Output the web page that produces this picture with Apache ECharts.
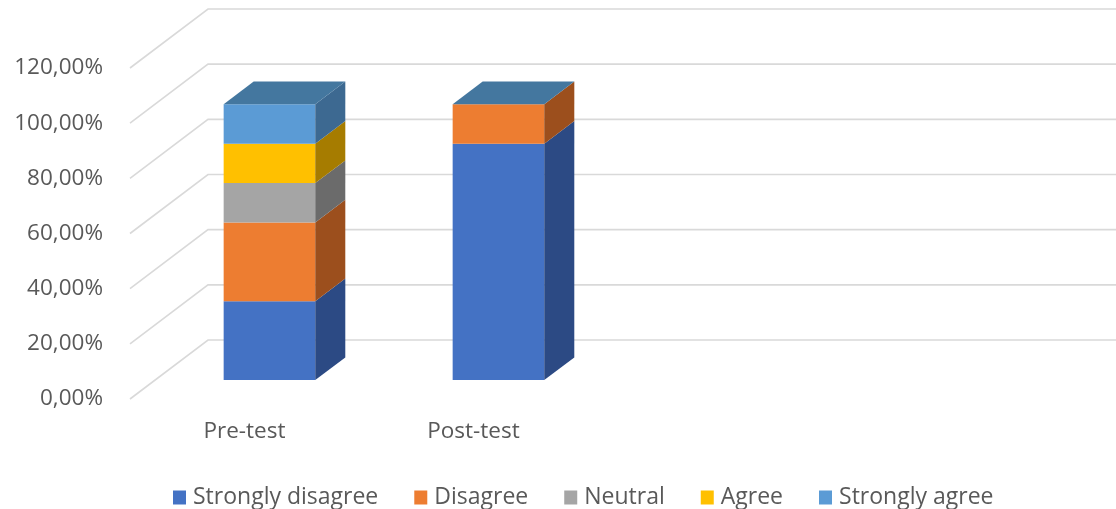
<!DOCTYPE html>
<html><head><meta charset="utf-8">
<script src="https://cdn.jsdelivr.net/npm/echarts@6/dist/echarts.min.js"></script>
<style>html,body{margin:0;padding:0;background:#fff}#c{width:1116px;height:509px}</style>
</head><body><div id="c"></div>
<script>
// ---- data ----
const categories = ['Pre-test', 'Post-test'];
const seriesNames = ['Strongly disagree', 'Disagree', 'Neutral', 'Agree', 'Strongly agree'];
const stronglyDisagree = [28.57, 85.71];
const disagree = [28.57, 14.29];
const neutral = [14.29, 0];
const agree = [14.29, 0];
const stronglyAgree = [14.29, 0];
const yTicks = [0, 20, 40, 60, 80, 100, 120];

// ---- style ----
const frontColors = ['#4472C4', '#ED7D31', '#A5A5A5', '#FFC000', '#5B9BD5'];
const sideColors = ['#2C4A84', '#9C4F1D', '#6B6B6B', '#A67C00', '#3D6991'];
const topColor = '#44779F';
const DEPTH = [78, -59];   // full floor depth vector in px
const F1 = 0.32, F2 = 0.705; // bar front/back depth fractions
const FONT = 'Open Sans';

const allValues = [stronglyDisagree, disagree, neutral, agree, stronglyAgree];
const cum = categories.map(() => 0);
const stacked = allValues.map(vals => vals.map((v, i) => {
  const s = cum[i]; cum[i] += v; return [i, s, cum[i]];
}));

function renderBar(si) {
  const last = si === allValues.length - 1;
  return function (params, api) {
    const idx = api.value(0), y0 = api.value(1), y1 = api.value(2);
    const p0 = api.coord([idx, y0]);
    const p1 = api.coord([idx, y1]);
    const band = api.size([1, 0])[0];
    const hw = band * 0.2;
    const fx = DEPTH[0] * F1, fy = DEPTH[1] * F1;
    const dx = DEPTH[0] * (F2 - F1), dy = DEPTH[1] * (F2 - F1);
    const L = p0[0] + fx - hw, R = p0[0] + fx + hw, B = p0[1] + fy, T = p1[1] + fy;
    const children = [];
    if (y1 > y0) {
      children.push({ type: 'polygon', shape: { points: [[L, T], [R, T], [R, B], [L, B]] }, style: { fill: frontColors[si] } });
      children.push({ type: 'polygon', shape: { points: [[R, T], [R + dx, T + dy], [R + dx, B + dy], [R, B]] }, style: { fill: sideColors[si] } });
    }
    if (last) {
      children.push({ type: 'polygon', shape: { points: [[L, T], [R, T], [R + dx, T + dy], [L + dx, T + dy]] }, style: { fill: topColor } });
    }
    return { type: 'group', children: children };
  };
}

const series = [{
  type: 'custom', name: '_walls', silent: true, z: 1,
  data: yTicks.map(v => [0, v]),
  encode: { x: 0, y: 1 },
  renderItem: function (params, api) {
    const cs = params.coordSys;
    const p = api.coord([0, api.value(1)]);
    const x0 = cs.x, y = p[1];
    return {
      type: 'polyline',
      shape: { points: [[x0, y], [x0 + DEPTH[0], y + DEPTH[1]], [x0 + cs.width + DEPTH[0] + 20, y + DEPTH[1]]] },
      style: { stroke: '#D9D9D9', lineWidth: 1.6, fill: null }
    };
  }
}];
seriesNames.forEach((n, si) => {
  series.push({
    type: 'custom', name: n, z: 2,
    itemStyle: { color: frontColors[si] },
    data: stacked[si],
    encode: { x: 0, y: [1, 2] },
    renderItem: renderBar(si)
  });
});

const chart = echarts.init(document.getElementById('c'), null, { renderer: 'canvas' });
chart.setOption({
  animation: false,
  backgroundColor: '#fff',
  grid: { left: 130, right: 70, top: 68, bottom: 110, containLabel: false },
  xAxis: {
    type: 'category',
    data: categories.concat(['', '']),
    axisLine: { show: false }, axisTick: { show: false }, splitLine: { show: false },
    axisLabel: { color: '#595959', fontSize: 22.5, fontFamily: FONT, margin: 21 }
  },
  yAxis: {
    type: 'value', min: 0, max: 120, interval: 20,
    axisLine: { show: false }, axisTick: { show: false }, splitLine: { show: false },
    axisLabel: {
      color: '#595959', fontSize: 22.5, fontFamily: FONT, margin: 27,
      formatter: v => v.toFixed(2).replace('.', ',') + '%'
    }
  },
  legend: {
    data: seriesNames, top: 481, left: 168,
    icon: 'rect', itemWidth: 13, itemHeight: 14, itemGap: 36,
    textStyle: { color: '#595959', fontSize: 23, fontFamily: FONT, padding: [0, 0, 0, 2] }
  },
  series: series
});
</script>
</body></html>
